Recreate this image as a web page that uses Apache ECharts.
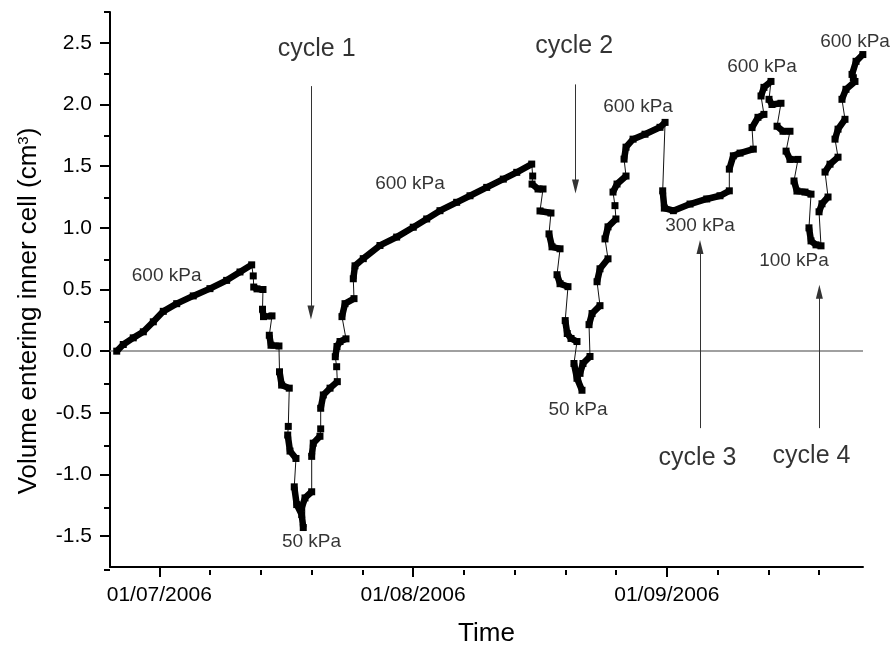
<!DOCTYPE html>
<html>
<head>
<meta charset="utf-8">
<script src="https://cdn.jsdelivr.net/npm/echarts@6/dist/echarts.min.js"></script>
<style>
html,body{margin:0;padding:0;background:#fff;}
#chart{width:895px;height:652px;}
</style>
</head>
<body>
<div id="chart"></div>
<script>
// ---- Data (time in days from 01/07/2006, volume in cm3) ----
// null marks a jump between recorded stretches
const initial600 = [[-5.20,0.00],[-4.40,0.054],[-3.18,0.108],[-1.95,0.157],[-0.73,0.238],[0.49,0.323],[2.13,0.385],[4.15,0.448],[6.19,0.507],[8.23,0.574],[9.86,0.642],[11.29,0.70]];

const cycle1 = [null,[11.48,0.61],null,
  [11.54,0.52],[11.94,0.505],[12.67,0.50],null,
  [12.61,0.34],[12.73,0.28],[13.77,0.286],null,
  [13.44,0.129],[13.65,0.048],[14.62,0.042],null,
  [14.69,-0.167],[14.95,-0.275],[15.88,-0.30],null,
  [15.76,-0.61],null,
  [15.69,-0.68],[15.97,-0.81],[16.70,-0.87],null,
  [16.49,-1.10],[16.79,-1.244],[17.40,-1.325],[17.59,-1.43],null,
  [17.40,-1.27],[17.80,-1.19],[18.62,-1.14],null,
  [18.62,-0.853],[18.81,-0.746],[19.63,-0.69],null,
  [19.72,-0.63],null,
  [19.72,-0.463],[20.04,-0.355],[20.86,-0.30],[21.75,-0.247],null,
  [21.67,-0.126],null,
  [21.50,-0.045],[21.71,0.038],[22.08,0.078],[22.81,0.10],null,
  [22.32,0.28],[22.69,0.385],[23.79,0.426],null];

const rise600 = [[23.70,0.587],[23.91,0.692],[24.92,0.75],[26.96,0.857],[29.00,0.925],[31.03,1.005],[32.67,1.072],[34.29,1.139],[36.33,1.207],[37.96,1.26],[40.00,1.328],[42.03,1.395],[43.67,1.45],[45.50,1.517]];

const cycle2 = [null,[45.62,1.42],null,
  [45.54,1.355],[46.27,1.315],[46.88,1.315],null,
  [46.51,1.137],[47.85,1.12],null,
  [47.61,0.951],[47.98,0.846],[48.96,0.83],null,
  [48.59,0.62],[48.96,0.547],[49.93,0.523],null,
  [49.59,0.248],[49.84,0.143],[50.30,0.103],[51.03,0.078],null,
  [50.66,-0.10],[51.03,-0.22],[51.64,-0.317],null,
  [51.40,-0.18],[51.76,-0.10],[52.62,-0.043],null,
  [52.50,0.215],[52.87,0.305],[53.84,0.369],null,
  [53.48,0.563],[53.84,0.668],[54.82,0.749],null,
  [54.45,0.91],[54.82,1.008],[55.79,1.072],null,
  [55.67,1.18],null,
  [55.43,1.29],[55.92,1.355],[57.02,1.42],null,
  [56.78,1.557],[57.02,1.654],[57.88,1.719],[59.34,1.759],[61.17,1.815],[61.79,1.855],null];

const cycle3 = [[61.50,1.30],[61.70,1.16],[62.80,1.139],[64.84,1.193],[66.88,1.234],[68.50,1.26],[69.64,1.30],null,
  [69.64,1.476],[70.13,1.584],[70.95,1.606],[72.57,1.638],null,
  [72.41,1.813],[73.14,1.896],[73.87,1.92],null,
  [73.51,2.069],[73.87,2.139],[74.73,2.187],null];

const cycle4 = [[74.49,2.042],[74.85,2.0],[75.95,2.01],null,
  [75.47,1.824],[76.20,1.783],[77.05,1.783],null,
  [76.57,1.622],[77.05,1.555],[78.03,1.555],null,
  [77.54,1.38],[77.90,1.298],[78.88,1.29],[79.62,1.273],null,
  [79.37,1.0],[79.62,0.894],[80.23,0.862],[80.84,0.854],null,
  [80.60,1.13],[80.96,1.195],[81.70,1.25],null,
  [81.33,1.452],[81.94,1.516],[82.92,1.573],null,
  [82.55,1.719],[82.92,1.80],[83.77,1.88],null,
  [83.40,2.042],[83.89,2.123],[84.99,2.187],null,
  [84.79,2.217],null,
  [84.63,2.244],[85.12,2.35],[85.95,2.405]];

// annotations
const noteText = ['600 kPa','50 kPa','600 kPa','50 kPa','600 kPa','300 kPa','600 kPa','100 kPa','600 kPa'];
const noteDay  = [0.90, 18.60, 30.63, 51.15, 58.49, 66.06, 73.63, 77.54, 85.00];
const noteVol  = [0.614, -1.546, 1.355, -0.479, 1.985, 1.016, 2.308, 0.733, 2.51];

const cycleText = ['cycle 1','cycle 2','cycle 3','cycle 4'];
const cycleDay  = [19.23, 50.69, 65.75, 79.68];
const cycleVol  = [2.446, 2.473, -0.867, -0.851];

const arrowDay  = [18.53, 50.85, 66.06, 80.64];
const arrowFrom = [2.149, 2.163, -0.624, -0.624];
const arrowTo   = [0.313, 1.336, 0.844, 0.482];

// axes
const xMin = -6.02, xMax = 85.97;
const xMajorDays = [0, 31, 62];
const xTickLabels = ['01/07/2006', '01/08/2006', '01/09/2006'];
const xMinorDays = [6.2, 12.4, 18.6, 24.8, 37.2, 43.4, 49.6, 55.8, 68.2, 74.4, 80.6];
const yMin = -1.75, yMax = 2.75;
const yMajor = [-1.5, -1.0, -0.5, 0.0, 0.5, 1.0, 1.5, 2.0, 2.5];
const yMinor = [-1.75, -1.25, -0.75, -0.25, 0.25, 0.75, 1.25, 1.75, 2.25, 2.75];

// ---- build ----
const phases = [initial600, cycle1, rise600, cycle2, cycle3, cycle4];
const thick = [];
const thin = [];
phases.forEach(p => {
  p.forEach(pt => { thick.push(pt); if (pt) thin.push(pt); });
  thick.push(null);
});

const FONT = 'Liberation Sans, Arial, sans-serif';
const chart = echarts.init(document.getElementById('chart'), null, {renderer: 'canvas'});

const gridBox = {left: 110, right: 32, top: 12, bottom: 82};

const option = {
  animation: false,
  backgroundColor: '#fff',
  textStyle: {fontFamily: FONT},
  grid: [Object.assign({}, gridBox), Object.assign({}, gridBox)],
  xAxis: [{
    type: 'value', gridIndex: 0, min: xMin, max: xMax,
    axisLine: {onZero: false, lineStyle: {color: '#000', width: 2}},
    axisTick: {customValues: xMajorDays, length: 10, lineStyle: {color: '#000', width: 2}},
    axisLabel: {customValues: xMajorDays, fontSize: 21, color: '#000', margin: 18, fontFamily: FONT,
      formatter: v => { const i = xMajorDays.findIndex(d => Math.abs(d - v) < 1e-6); return i >= 0 ? xTickLabels[i] : ''; }},
    splitLine: {show: false},
    name: 'Time', nameLocation: 'middle', nameGap: 54,
    nameTextStyle: {fontSize: 26, color: '#000', fontFamily: FONT}
  }, {
    type: 'value', gridIndex: 1, min: xMin, max: xMax,
    axisLine: {show: false, onZero: false},
    axisTick: {customValues: xMinorDays, length: 5, lineStyle: {color: '#000', width: 2}},
    axisLabel: {show: false},
    splitLine: {show: false}
  }],
  yAxis: [{
    type: 'value', gridIndex: 0, min: yMin, max: yMax,
    axisLine: {show: true, onZero: false, lineStyle: {color: '#000', width: 2}},
    axisTick: {show: true, customValues: yMajor, length: 10, lineStyle: {color: '#000', width: 2}},
    axisLabel: {customValues: yMajor, fontSize: 21, color: '#000', margin: 18, fontFamily: FONT,
      formatter: v => Number(v).toFixed(1)},
    splitLine: {show: false}
  }, {
    type: 'value', gridIndex: 1, min: yMin, max: yMax,
    axisLine: {show: false, onZero: false},
    axisTick: {show: true, customValues: yMinor, length: 6, lineStyle: {color: '#000', width: 2}},
    axisLabel: {show: false},
    splitLine: {show: false}
  }],
  series: [{
    name: 'path', type: 'line', xAxisIndex: 0, yAxisIndex: 0,
    data: thin, showSymbol: false, symbol: 'none', silent: true, z: 2,
    lineStyle: {color: '#111', width: 1},
    markLine: {
      silent: true, symbol: ['none', 'none'], label: {show: false},
      lineStyle: {color: '#808080', width: 1.5, type: 'solid'},
      data: [{yAxis: 0}], z: 1
    }
  }, {
    name: 'volume', type: 'line', xAxisIndex: 0, yAxisIndex: 0,
    data: thick, connectNulls: false, showSymbol: true, symbol: 'rect', symbolSize: 7,
    itemStyle: {color: '#000'}, lineStyle: {color: '#000', width: 6.5, join: 'round'}, silent: true, z: 3,
    markLine: {
      silent: true, label: {show: false},
      lineStyle: {color: '#333', width: 1, type: 'solid'},
      data: arrowDay.map((d, i) => [
        {coord: [d, arrowFrom[i]], symbol: 'none'},
        {coord: [d, arrowTo[i]], symbol: 'triangle', symbolSize: [7, 14]}
      ])
    }
  }, {
    name: 'notes', type: 'scatter', xAxisIndex: 0, yAxisIndex: 0, silent: true, z: 5,
    symbolSize: 1, itemStyle: {color: 'rgba(0,0,0,0)'},
    label: {show: true, position: 'inside', formatter: '{b}', fontSize: 19, color: '#000', textBorderWidth: 0, fontFamily: FONT},
    data: noteText.map((t, i) => ({name: t, value: [noteDay[i], noteVol[i]]}))
  }, {
    name: 'cycles', type: 'scatter', xAxisIndex: 0, yAxisIndex: 0, silent: true, z: 5,
    symbolSize: 1, itemStyle: {color: 'rgba(0,0,0,0)'},
    label: {show: true, position: 'inside', formatter: '{b}', fontSize: 25, color: '#000', textBorderWidth: 0, fontFamily: FONT},
    data: cycleText.map((t, i) => ({name: t, value: [cycleDay[i], cycleVol[i]]}))
  }],
  graphic: [{
    type: 'text', x: 29, y: 311, rotation: Math.PI / 2,
    style: {
      text: '{a|Volume entering inner cell (cm}{s|3}{a|)}',
      rich: {
        a: {fontSize: 26, fontFamily: FONT, fill: '#000', color: '#000'},
        s: {fontSize: 15, fontFamily: FONT, fill: '#000', color: '#000', verticalAlign: 'top', padding: [0, 0, 10, 0]}
      },
      align: 'center', verticalAlign: 'middle', textAlign: 'center', textVerticalAlign: 'middle'
    }
  }]
};
chart.setOption(option);
</script>
</body>
</html>
